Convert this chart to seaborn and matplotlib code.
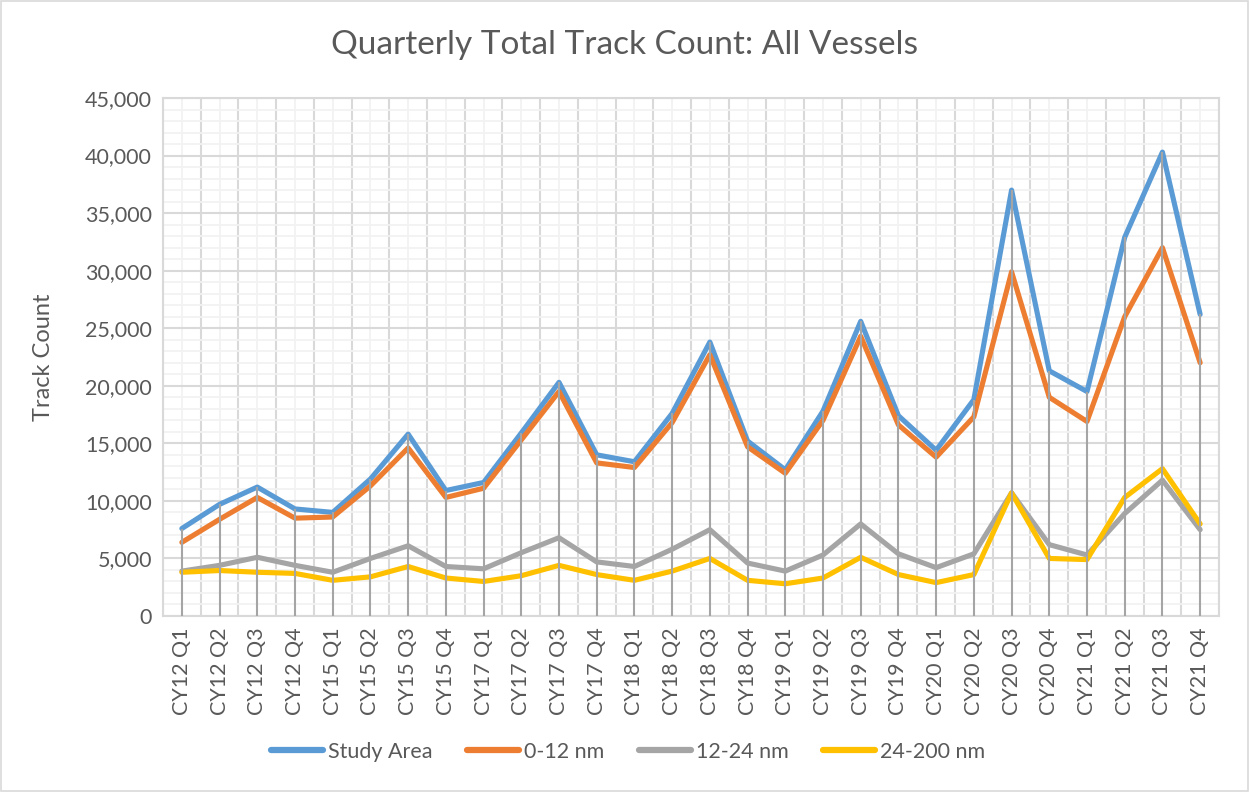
import numpy as np
import pandas as pd
import matplotlib
matplotlib.use("Agg")
import matplotlib.pyplot as plt
from matplotlib.ticker import MultipleLocator, FuncFormatter, FixedLocator
import seaborn as sns

categories = ["CY12 Q1", "CY12 Q2", "CY12 Q3", "CY12 Q4",
              "CY15 Q1", "CY15 Q2", "CY15 Q3", "CY15 Q4",
              "CY17 Q1", "CY17 Q2", "CY17 Q3", "CY17 Q4",
              "CY18 Q1", "CY18 Q2", "CY18 Q3", "CY18 Q4",
              "CY19 Q1", "CY19 Q2", "CY19 Q3", "CY19 Q4",
              "CY20 Q1", "CY20 Q2", "CY20 Q3", "CY20 Q4",
              "CY21 Q1", "CY21 Q2", "CY21 Q3", "CY21 Q4"]

study_area = [7600, 9700, 11200, 9300, 9000, 11900, 15800, 10900,
              11600, 15900, 20300, 14000, 13400, 17600, 23800, 15200,
              12700, 17800, 25600, 17400, 14400, 18800, 37000, 21300,
              19500, 32900, 40300, 26200]
nm_0_12 = [6400, 8400, 10300, 8500, 8600, 11300, 14600, 10300,
           11100, 15300, 19500, 13300, 12900, 16800, 22700, 14700,
           12400, 17000, 24300, 16600, 13800, 17300, 29900, 19000,
           16900, 26000, 32000, 22000]
nm_12_24 = [3900, 4400, 5100, 4400, 3800, 5000, 6100, 4300,
            4100, 5500, 6800, 4700, 4300, 5800, 7500, 4600,
            3900, 5300, 8000, 5400, 4200, 5400, 10700, 6200,
            5300, 8900, 11800, 7500]
nm_24_200 = [3800, 3950, 3800, 3700, 3100, 3400, 4300, 3300,
             3000, 3500, 4400, 3600, 3100, 3900, 5000, 3100,
             2800, 3300, 5100, 3600, 2900, 3600, 10700, 5000,
             4900, 10300, 12800, 8000]

series_names = ["Study Area", "0-12 nm", "12-24 nm", "24-200 nm"]
series_colors = ["#5B9BD5", "#ED7D31", "#A5A5A5", "#FFC000"]

sns.set_theme(style="white")
plt.rcParams['font.family'] = ['Lato', 'DejaVu Sans']

frames = []
for name, vals in zip(series_names, [study_area, nm_0_12, nm_12_24, nm_24_200]):
    frames.append(pd.DataFrame({"pos": np.arange(len(categories)),
                                "Quarter": categories,
                                "Track Count": vals,
                                "Series": name}))
df = pd.concat(frames, ignore_index=True)

fig = plt.figure(figsize=(12.49, 7.92), dpi=100)
ax = fig.add_axes([163/1249, 1-616/792, (1219-163)/1249, (616-98)/792])

# gridlines
ax.set_axisbelow(True)
ax.yaxis.set_major_locator(MultipleLocator(5000))
ax.yaxis.set_minor_locator(MultipleLocator(1000))
ax.xaxis.set_major_locator(FixedLocator(np.arange(len(categories))))
ax.xaxis.set_minor_locator(FixedLocator(np.arange(-0.5, len(categories) + 0.5, 1)))
ax.grid(which="minor", axis="y", color="#F2F2F2", lw=1.3)
ax.grid(which="major", axis="y", color="#D9D9D9", lw=1.5)
ax.grid(which="major", axis="x", color="#F2F2F2", lw=1.3)
ax.grid(which="minor", axis="x", color="#D9D9D9", lw=1.5)

sns.lineplot(data=df, x="pos", y="Track Count", hue="Series",
             palette=dict(zip(series_names, series_colors)),
             hue_order=series_names, sort=False, lw=3.7, ax=ax,
             legend=True, zorder=3)

# drop lines
tops = df.groupby("pos")["Track Count"].max()
ax.vlines(tops.index, 0, tops.values, color="#A5A5A5", lw=1.5, zorder=4)

ax.set_xlim(-0.5, len(categories) - 0.5)
ax.set_ylim(0, 45000)
ax.set_xticklabels(categories, rotation=90, fontsize=15.5, color="#595959")
ax.yaxis.set_major_formatter(FuncFormatter(lambda v, p: f"{int(v):,}"))
ax.tick_params(axis="y", labelsize=15.5, labelcolor="#595959", length=0, pad=8)
ax.tick_params(axis="x", length=0, pad=8)
ax.tick_params(which="minor", length=0)
ax.set_xlabel("")
ax.set_ylabel("Track Count", fontsize=17, color="#595959", labelpad=22)
for s in ax.spines.values():
    s.set_color("#D9D9D9")
    s.set_linewidth(1.5)

fig.suptitle("Quarterly Total Track Count: All Vessels", x=0.5, y=0.943,
             va="center", fontsize=24, color="#595959")

handles, labels = ax.get_legend_handles_labels()
ax.legend_.remove()
leg = fig.legend(handles, labels, loc="center", bbox_to_anchor=(0.503, 1-752/792),
                 ncol=4, frameon=False, fontsize=15.5, handlelength=2.4,
                 handletextpad=0.25, columnspacing=1.6)
for t in leg.get_texts():
    t.set_color("#595959")
for h in leg.legend_handles:
    h.set_linewidth(4.5)

fig.patches.append(plt.Rectangle((0.001, 0.001), 0.998, 0.998, transform=fig.transFigure,
                                 fill=False, edgecolor="#D9D9D9", lw=1.2))

fig.savefig("out.png", dpi=100, facecolor="white")
